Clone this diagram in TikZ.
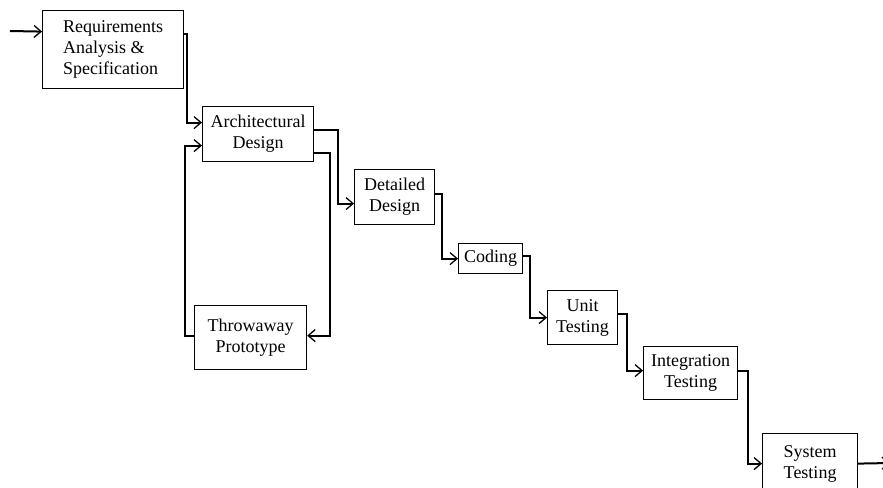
\documentclass[tikz,border=0pt]{standalone}
\usepackage{fontspec}
\setmainfont{Liberation Serif}
\usetikzlibrary{arrows.meta}

\begin{document}
\begin{tikzpicture}[x=1pt,y=-1pt,
  box/.style={draw,line width=1.2pt,anchor=north west,align=center,inner sep=0pt,
    font=\fontsize{18}{21}\selectfont},
  flow/.style={line width=2pt,-{Straight Barb[length=7pt,width=12pt,line width=1.3pt]}}]
  \useasboundingbox (0,0) rectangle (883,487);
  % phases
  \node[box,align=left,minimum width=141,minimum height=78] (req) at (42,10)
    {Requirements\\Analysis \&\\Specification};
  \node[box,minimum width=111,minimum height=55] (arch) at (202,106) {Architectural\\Design};
  \node[box,minimum width=112,minimum height=64] (thr) at (194,305) {Throwaway\\Prototype};
  \node[box,minimum width=80,minimum height=55] (det) at (354,169) {Detailed\\Design};
  \node[box,minimum width=64,minimum height=30] (cod) at (458,243) {Coding};
  \node[box,minimum width=70,minimum height=54] (unit) at (547,290) {Unit\\Testing};
  \node[box,minimum width=94,minimum height=53] (integ) at (643,346) {Integration\\Testing};
  \node[box,minimum width=95,minimum height=60] (sys) at (762,433) {System\\Testing};
  \coordinate (in) at (10,31);
  \coordinate (out) at (890,463);
  % flow
  \draw[flow] (in) -- ([yshift=18]req.west);
  \draw[flow] ([yshift=16]req.east) -- ++(3,0) |- ([yshift=11.5]arch.west);
  \draw[flow] ([yshift=4.5]arch.east) -- ++(24,0) |- ([yshift=-6.5]det.west);
  \draw[flow] ([yshift=-18.5]arch.east) -- ++(16,0) |- ([yshift=2]thr.east);
  \draw[flow] ([yshift=2]thr.west) -- ++(-9,0) |- ([yshift=-11.5]arch.west);
  \draw[flow] ([yshift=3.5]det.east) -- ++(7,0) |- (cod.west);
  \draw[flow] ([yshift=3]cod.east) -- ++(7,0) |- (unit.west);
  \draw[flow] ([yshift=4]unit.east) -- ++(9,0) |- ([yshift=2.5]integ.west);
  \draw[flow] ([yshift=2.5]integ.east) -- ++(10,0) |- (sys.west);
  \draw[flow] (sys.east) -- (out);
\end{tikzpicture}
\end{document}
